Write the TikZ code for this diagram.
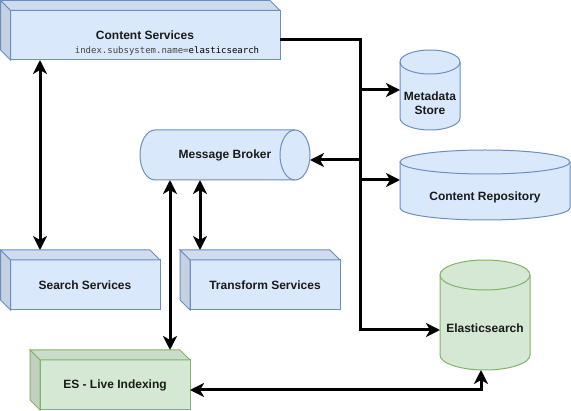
\documentclass[tikz,border=0pt]{standalone}
\usepackage{fontspec}
\setmainfont{Liberation Sans}
\setmonofont{DejaVu Sans Mono}
\usetikzlibrary{arrows.meta}
\definecolor{bfill}{HTML}{DAE8FC}
\definecolor{btop}{HTML}{CFDCF0}
\definecolor{bleft}{HTML}{C4D1E3}
\definecolor{bline}{HTML}{6C8EBF}
\definecolor{gfill}{HTML}{D5E8D4}
\definecolor{gtop}{HTML}{CADCCA}
\definecolor{gleft}{HTML}{C0D1BF}
\definecolor{gline}{HTML}{82B366}
\definecolor{txt}{HTML}{1A1A1A}
\definecolor{monogray}{HTML}{444444}
\newcommand\cubeshape[5]{%
  \filldraw[draw=#5line, fill=#5fill] (#1+10,#2+10) rectangle (#1+#3,#2+#4);
  \filldraw[draw=#5line, fill=#5top] (#1,#2) -- (#1+#3-10,#2) -- (#1+#3,#2+10) -- (#1+10,#2+10) -- cycle;
  \filldraw[draw=#5line, fill=#5left] (#1,#2) -- (#1+10,#2+10) -- (#1+10,#2+#4) -- (#1,#2+#4-10) -- cycle;
}
\newcommand\vcyl[6]{%
  \filldraw[draw=#6line, fill=#6fill] (#1,#2+#5) -- (#1,#2+#4-#5)
     arc[start angle=180, end angle=0, x radius=#3/2, y radius=#5]
     -- (#1+#3,#2+#5)
     arc[start angle=0, end angle=-180, x radius=#3/2, y radius=#5] -- cycle;
  \draw[draw=#6line] (#1,#2+#5) arc[start angle=180, end angle=0, x radius=#3/2, y radius=#5];
}
\begin{document}
\begin{tikzpicture}[x=1pt,y=-1pt,line width=1pt,
  face/.style={draw=none, inner sep=0pt, outer sep=0pt, rectangle},
  lbl/.style={font=\fontsize{12}{14}\selectfont\bfseries, text=txt},
  mono/.style={font=\fontsize{9}{11}\ttfamily, text=monogray},
  conn/.style={line width=3pt, black, line join=miter, -{Stealth[length=14pt,width=14pt,inset=4pt]}},
  biconn/.style={line width=3pt, black, line join=miter, {Stealth[length=14pt,width=14pt,inset=4pt]}-{Stealth[length=14pt,width=14pt,inset=4pt]}}]
\useasboundingbox (0,0) rectangle (571,411);

% shapes
\cubeshape{0.5}{0.5}{279.5}{59.5}{b}
\cubeshape{0.5}{250}{159.5}{60}{b}
\cubeshape{180}{250}{160}{60}{b}
\cubeshape{30}{350}{160}{60}{g}
\vcyl{400}{50}{60}{80}{12}{b}
\vcyl{400}{150}{170}{70}{12}{b}
\vcyl{440}{260}{90}{110}{15}{g}
% message broker (horizontal cylinder)
\filldraw[draw=bline, fill=bfill] (155,130) -- (295,130)
   arc[start angle=-90, end angle=90, x radius=15, y radius=25] -- (155,180)
   arc[start angle=90, end angle=270, x radius=15, y radius=25] -- cycle;
\draw[bline] (295,130) arc[start angle=270, end angle=90, x radius=15, y radius=25];

% named nodes
\node[face, minimum width=270pt, minimum height=50pt,
  label={[lbl]center:Content Services},
  label={[mono, xshift=22pt, yshift=-16pt]center:index.subsystem.name=\textcolor{black}{elasticsearch}}]
  (cs) at (145,35) {};
\node[face, lbl, minimum width=150pt, minimum height=50pt] (ss) at (85,285) {Search Services};
\node[face, lbl, minimum width=150pt, minimum height=50pt] (tr) at (265,285) {Transform Services};
\node[face, lbl, minimum width=150pt, minimum height=50pt] (esl) at (115,385) {ES - Live Indexing};
\node[face, lbl, minimum width=170pt, minimum height=50pt] (mb) at (225,155) {Message Broker};
\node[face, minimum width=60pt, minimum height=80pt,
  label={[lbl, align=center, yshift=-13pt]center:Metadata\\Store}] (md) at (430,90) {};
\node[face, minimum width=170pt, minimum height=70pt,
  label={[lbl, yshift=-12pt]center:Content Repository}] (cr) at (485,185) {};
\node[face, minimum width=90pt, minimum height=110pt,
  label={[lbl, yshift=-13pt]center:Elasticsearch}] (es) at (485,315) {};

% connectors
\draw[conn] ([yshift=-5pt]cs.east) -- ++(80,0) |- (md.west);
\draw[conn] ([yshift=-5pt]cs.east) -- ++(80,0) |- ([yshift=-5pt]mb.east);
\draw[conn] ([yshift=-5pt]cs.east) -- ++(80,0) |- ([yshift=5pt]cr.west);
\draw[conn] ([yshift=-5pt]cs.east) -- ++(80,0) |- ([yshift=-15pt]es.west);
\draw[biconn] ([xshift=30pt]cs.south west) -- ([xshift=30pt,yshift=10pt]ss.north west);
\draw[biconn] ([xshift=30pt]mb.south west) -- ([xshift=130pt,yshift=10pt]esl.north west);
\draw[biconn] ([xshift=60pt]mb.south west) -- ([xshift=10pt,yshift=10pt]tr.north west);
\draw[biconn] ([yshift=-5pt]esl.east) -| ([xshift=-4pt]es.south);
\end{tikzpicture}
\end{document}
